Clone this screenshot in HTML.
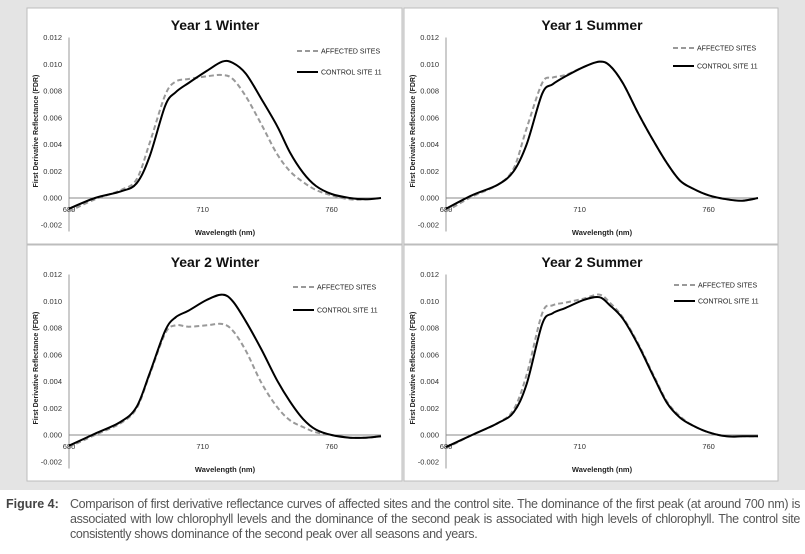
<!DOCTYPE html>
<html><head><meta charset="utf-8"><style>
body{margin:0;width:805px;height:554px;background:#fff;overflow:hidden;font-family:"Liberation Sans",sans-serif;position:relative}
#bg{position:absolute;left:0;top:0;width:805px;height:490px;background:#e4e4e4}
svg{position:absolute;left:0;top:0}
#cap{position:absolute;left:6px;top:497px;width:794px;font-family:"Liberation Sans Narrow","Liberation Sans",sans-serif;font-size:12.5px;line-height:15px;color:#555}
#cap .lab{position:absolute;left:0;top:0;font-weight:bold;color:#444}
#cap .txt{margin-left:64px;text-align:justify;letter-spacing:-0.35px}
</style></head><body>
<div id="bg"></div>
<svg id="fig" width="805" height="490"></svg>
<div id="cap"><span class="lab">Figure 4:</span><div class="txt">Comparison of first derivative reflectance curves of affected sites and the control site. The dominance of the first peak (at around 700 nm) is associated with low chlorophyll levels and the dominance of the second peak is associated with high levels of chlorophyll. The control site consistently shows dominance of the second peak over all seasons and years.</div></div>
<script>
const sampleIdx = [0,5,10,13,15.5,18.5,20.5,23,26.5,29.5,31.5,34,37,40,42.5,45,47.5,50.5,54,57,60];
const xTickLabels = ["680","710","760"];
const xTickIdx = [0,25.7,50.5];
const yTicks = [-0.002,0,0.002,0.004,0.006,0.008,0.010,0.012];
const panelTitles = ["Year 1 Winter","Year 1 Summer","Year 2 Winter","Year 2 Summer"];
const y1wControl = [-0.0008,0,0.0005,0.0011,0.0031,0.0069,0.0079,0.0086,0.0095,0.0102,0.0101,0.0093,0.0074,0.0054,0.0034,0.0019,0.0009,0.0003,0,-0.0001,0];
const y1wAffected = [-0.001,-0.0001,0.0006,0.0014,0.0041,0.0077,0.0087,0.0089,0.0091,0.0092,0.0089,0.0076,0.0055,0.0033,0.002,0.0012,0.0006,0.0002,-0.0001,-0.0001,0];
const y1sControl = [-0.0008,0.0002,0.001,0.002,0.004,0.0078,0.0085,0.0091,0.0098,0.0102,0.0099,0.0086,0.0063,0.0042,0.0026,0.0013,0.0007,0.0002,-0.0001,-0.0002,0];
const y1sAffected = [-0.001,0.0001,0.001,0.0022,0.0052,0.0086,0.009,0.0092,0.0098,0.0102,0.0099,0.0086,0.0063,0.0042,0.0026,0.0013,0.0007,0.0002,-0.0001,-0.0002,0];
const y2wControl = [-0.0008,0.0001,0.001,0.0021,0.0046,0.0078,0.0088,0.0093,0.0101,0.0105,0.01,0.0085,0.0064,0.0041,0.0025,0.0012,0.0004,0,-0.0002,-0.0002,-0.0001];
const y2wAffected = [-0.0009,0,0.0009,0.002,0.0045,0.0076,0.0082,0.0081,0.0082,0.0083,0.0078,0.0063,0.0039,0.0021,0.0011,0.0006,0.0002,0,-0.0002,-0.0002,-0.0001];
const y2sControl = [-0.0009,0,0.0009,0.0017,0.0038,0.0083,0.0091,0.0095,0.0101,0.0103,0.0097,0.0087,0.0067,0.0043,0.0024,0.0013,0.0007,0.0002,-0.0001,-0.0001,-0.0001];
const y2sAffected = [-0.001,0,0.0009,0.0019,0.0045,0.0091,0.0097,0.0099,0.0102,0.0105,0.0099,0.0088,0.0068,0.0044,0.0025,0.0014,0.0007,0.0002,-0.0001,-0.0001,-0.0001];

const NS="http://www.w3.org/2000/svg";
const fig=document.getElementById('fig');
function mk(tag,attrs,parent,text){const e=document.createElementNS(NS,tag);for(const k in attrs)e.setAttribute(k,attrs[k]);if(text!==undefined)e.textContent=text;parent.appendChild(e);return e;}
const panels=[
 {x0:27,y0:8,w:375,h:236,ax:69,zero:198,leg:[297,51,72],ser:[y1wAffected,y1wControl],slug:'year1-winter'},
 {x0:404,y0:8,w:374,h:236,ax:446,zero:198,leg:[673,48,66],ser:[y1sAffected,y1sControl],slug:'year1-summer'},
 {x0:27,y0:245,w:375,h:236,ax:69,zero:435,leg:[293,287,310],ser:[y2wAffected,y2wControl],slug:'year2-winter'},
 {x0:404,y0:245,w:374,h:236,ax:446,zero:435,leg:[674,285,301],ser:[y2sAffected,y2sControl],slug:'year2-summer'}
];
const pxPerIdx=5.2, pxPerUnit=26.75/0.002;
function smooth(pts){let d='M'+pts[0][0]+','+pts[0][1];for(let i=0;i<pts.length-1;i++){const p0=pts[i-1]||pts[i],p1=pts[i],p2=pts[i+1],p3=pts[i+2]||p2;const c1=[p1[0]+(p2[0]-p0[0])/6,p1[1]+(p2[1]-p0[1])/6],c2=[p2[0]-(p3[0]-p1[0])/6,p2[1]-(p3[1]-p1[1])/6];d+=' C'+c1[0].toFixed(1)+','+c1[1].toFixed(1)+' '+c2[0].toFixed(1)+','+c2[1].toFixed(1)+' '+p2[0].toFixed(1)+','+p2[1].toFixed(1);}return d;}
panels.forEach((p,pi)=>{
 const g=mk('g',{},fig);
 
 
 const bgRect=mk('rect',{x:p.x0,y:p.y0,width:p.w,height:p.h,fill:'#fff',stroke:'#bdbdbd','stroke-width':1},g);
 
 
 const X=i=>p.ax+i*pxPerIdx, Y=v=>p.zero-v*pxPerUnit;
 const cx=p.x0+188;
 const t=mk('text',{x:cx,y:p.y0+22,'text-anchor':'middle','font-size':14,'font-weight':'bold',fill:'#111'},g,panelTitles[pi]);
 
 
 const yax=mk('line',{x1:p.ax,x2:p.ax,y1:Y(0.012),y2:Y(-0.0025),stroke:'#999','stroke-width':1},g);
 
 
 const xax=mk('line',{x1:p.ax,x2:X(60),y1:Y(0),y2:Y(0),stroke:'#888','stroke-width':1},g);
 
 
 yTicks.forEach(v=>{const e=mk('text',{x:p.ax-7,y:Y(v)+2.5,'text-anchor':'end','font-size':7.5,fill:'#333'},g,v.toFixed(3));
  
  });
 xTickLabels.forEach((l,i)=>{const e=mk('text',{x:X(xTickIdx[i]),y:Y(0)+14,'text-anchor':'middle','font-size':7.5,fill:'#333'},g,l);
  
  });
 const yt=mk('text',{x:0,y:0,'text-anchor':'middle','font-size':7,'font-weight':'bold',fill:'#222',transform:`translate(${p.ax-31},${Y(0.005)}) rotate(-90)`},g,'First Derivative Reflectance (FDR)');
 
 
 const xt=mk('text',{x:p.ax+156,y:Y(-0.002)+10,'text-anchor':'middle','font-size':7.5,'font-weight':'bold',fill:'#222'},g,'Wavelength (nm)');
 
 
 const styles=[{stroke:'#999','stroke-width':2,'stroke-dasharray':'5,3',fill:'none'},{stroke:'#000','stroke-width':2,fill:'none'}];
 const names=['affected-sites-line','control-site-line'];
 p.ser.forEach((s,si)=>{const pts=sampleIdx.map((ix,k)=>[X(ix),Y(s[k])]);
  const e=mk('path',Object.assign({d:smooth(pts)},styles[si]),g);
  
  });
 const labs=['AFFECTED SITES','CONTROL SITE 11'];
 [0,1].forEach(k=>{const ly=p.leg[k+1];
  const lg=mk('g',{},g);
  
  
  mk('line',Object.assign({x1:p.leg[0],x2:p.leg[0]+21,y1:ly,y2:ly},styles[k]),lg);
  mk('text',{x:p.leg[0]+24,y:ly+2.5,'font-size':7,fill:'#222'},lg,labs[k]);});
});
</script>
</body></html>
